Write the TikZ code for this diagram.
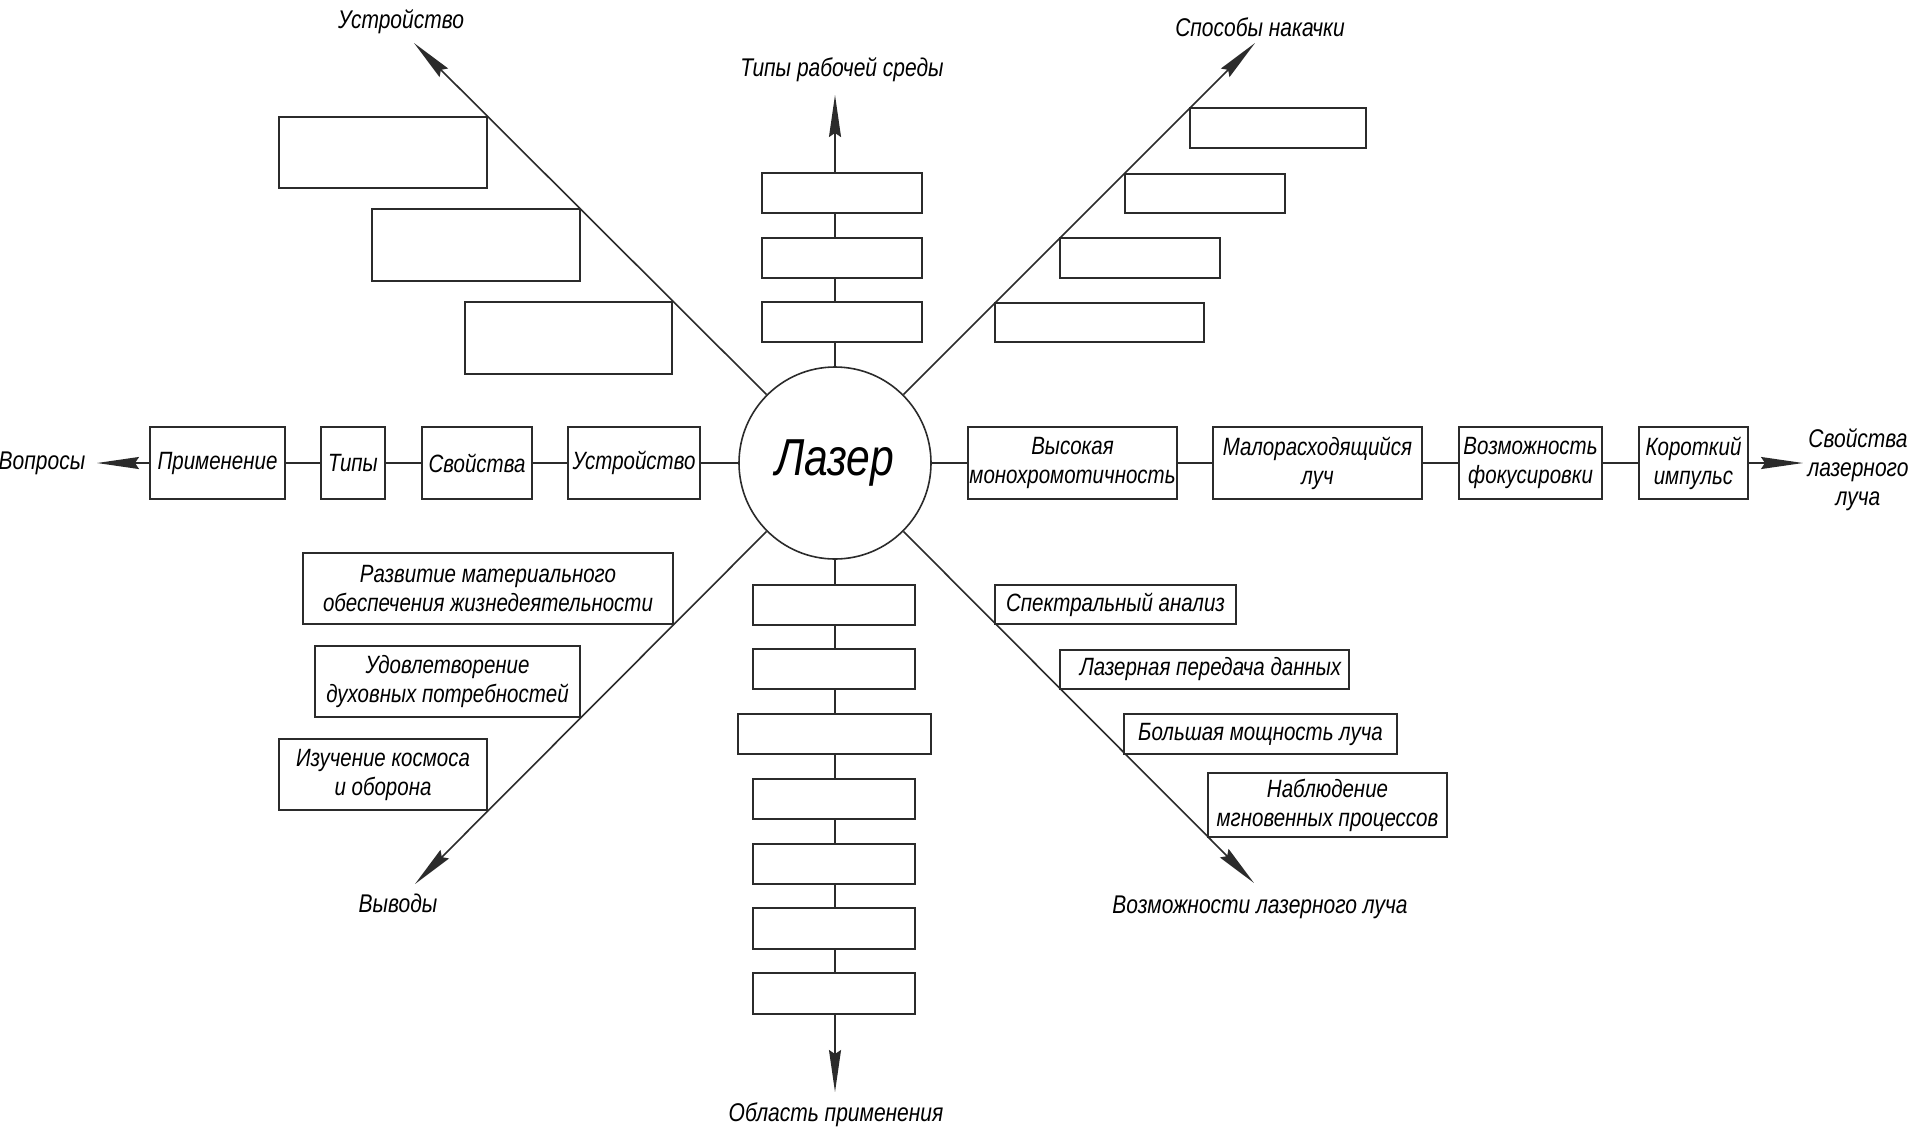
\documentclass[tikz,border=0pt]{standalone}
\usepackage{fontspec}
\setmainfont{Liberation Sans}[FakeStretch=0.82]
\usetikzlibrary{arrows.meta}
\definecolor{lc}{HTML}{2B2B2B}
\newcommand\mybox[6]{%
  \pgfmathsetmacro\bw{(#4-#2)*0.5}%
  \pgfmathsetmacro\bh{(#5-#3)*0.5}%
  \node[box,minimum width=\bw pt,minimum height=\bh pt] (#1) at ({(#2+#4)/2},{(#3+#5)/2}) {#6};}
\begin{document}
\begin{tikzpicture}[x=0.5pt,y=-0.5pt,
  ln/.style={draw=lc,line width=0.8pt},
  arr/.style={ln,-{Stealth[length=21pt,width=6pt,inset=2pt]}},
  box/.style={draw=lc,line width=0.8pt,fill=white,inner sep=0.5pt,align=center,
    font=\fontsize{12.5}{14.5}\selectfont\itshape},
  lbl/.style={align=center,inner sep=0pt,font=\fontsize{12.8}{14.5}\selectfont\itshape}]
\useasboundingbox (0,0) rectangle (1917,1131);
\fill[white] (0,0) rectangle (1917,1131);

\node[circle,draw=lc,line width=0.8pt,minimum size=96pt,inner sep=0pt,
  font=\fontsize{26}{30}\selectfont\itshape] (laser) at (835,463) {Лазер};

% tips
\coordinate (tl) at (97,463);
\coordinate (tr) at (1803,463);
\coordinate (tt) at (835,95);
\coordinate (tb) at (835,1092);
\coordinate (tul) at (414,43);
\coordinate (tur) at (1255,43);
\coordinate (tll) at (415,884);
\coordinate (tlr) at (1254,883);

% axes
\draw[arr] (laser.north) -- (tt);
\draw[arr] (laser.south) -- (tb);
\draw[arr] (laser.135) -- (tul);
\draw[arr] (laser.45) -- (tur);
\draw[arr] (laser.225) -- (tll);
\draw[arr] (laser.-45) -- (tlr);

% left chain
\mybox{prim}{150}{427}{285}{499}{Применение}
\mybox{tipy}{321}{427}{385}{499}{Типы}
\mybox{svoi}{422}{427}{532}{499}{Свойства}
\mybox{ustr}{568}{427}{700}{499}{Устройство}
\draw[ln] (laser.west) -- (ustr.east);
\draw[ln] (ustr.west) -- (svoi.east);
\draw[ln] (svoi.west) -- (tipy.east);
\draw[ln] (tipy.west) -- (prim.east);
\draw[arr] (prim.west) -- (tl);

% right chain
\mybox{vys}{968}{427}{1177}{499}{Высокая\\монохромотичность}
\mybox{mal}{1213}{427}{1422}{499}{Малорасходящийся\\луч}
\mybox{voz}{1459}{427}{1602}{499}{Возможность\\фокусировки}
\mybox{kor}{1639}{427}{1748}{499}{Короткий\\импульс}
\draw[ln] (laser.east) -- (vys.west);
\draw[ln] (vys.east) -- (mal.west);
\draw[ln] (mal.east) -- (voz.west);
\draw[ln] (voz.east) -- (kor.west);
\draw[arr] (kor.east) -- (tr);

% top boxes
\mybox{t1}{762}{173}{922}{213}{}
\mybox{t2}{762}{238}{922}{278}{}
\mybox{t3}{762}{302}{922}{342}{}

% bottom boxes
\mybox{b1}{753}{585}{915}{625}{}
\mybox{b2}{753}{649}{915}{689}{}
\mybox{b3}{738}{714}{931}{754}{}
\mybox{b4}{753}{779}{915}{819}{}
\mybox{b5}{753}{844}{915}{884}{}
\mybox{b6}{753}{908}{915}{949}{}
\mybox{b7}{753}{973}{915}{1014}{}

% upper-left boxes
\mybox{ul1}{279}{117}{487}{188}{}
\mybox{ul2}{372}{209}{580}{281}{}
\mybox{ul3}{465}{302}{672}{374}{}

% upper-right boxes
\mybox{ur1}{1190}{108}{1366}{148}{}
\mybox{ur2}{1125}{174}{1285}{213}{}
\mybox{ur3}{1060}{238}{1220}{278}{}
\mybox{ur4}{995}{303}{1204}{342}{}

% lower-left boxes
\mybox{ll1}{303}{553}{673}{624}{Развитие материального\\обеспечения жизнедеятельности}
\mybox{ll2}{315}{646}{580}{717}{Удовлетворение\\духовных потребностей}
\mybox{ll3}{279}{739}{487}{810}{Изучение космоса\\и оборона}

% lower-right boxes
\mybox{lr1}{995}{585}{1236}{624}{Спектральный анализ}
\mybox{lr2}{1060}{650}{1349}{689}{\hspace*{6pt}Лазерная передача данных}
\mybox{lr3}{1124}{714}{1397}{754}{Большая мощность луча}
\mybox{lr4}{1208}{773}{1447}{837}{Наблюдение\\мгновенных процессов}

% labels
\node[lbl] (vopr) at (42,463) {Вопросы};
\node[lbl] (svl) at (1858,470) {Свойства\\лазерного\\луча};
\node[lbl] (ustrl) at (401,22) {Устройство};
\node[lbl] (tipsl) at (842,70) {Типы рабочей среды};
\node[lbl] (sposl) at (1260,27) {Способы накачки};
\node[lbl] (vyvl) at (398,903) {Выводы};
\node[lbl] (vozl) at (1260,907) {Возможности лазерного луча};
\node[lbl] (obl) at (836,1115) {Область применения};
\end{tikzpicture}
\end{document}
